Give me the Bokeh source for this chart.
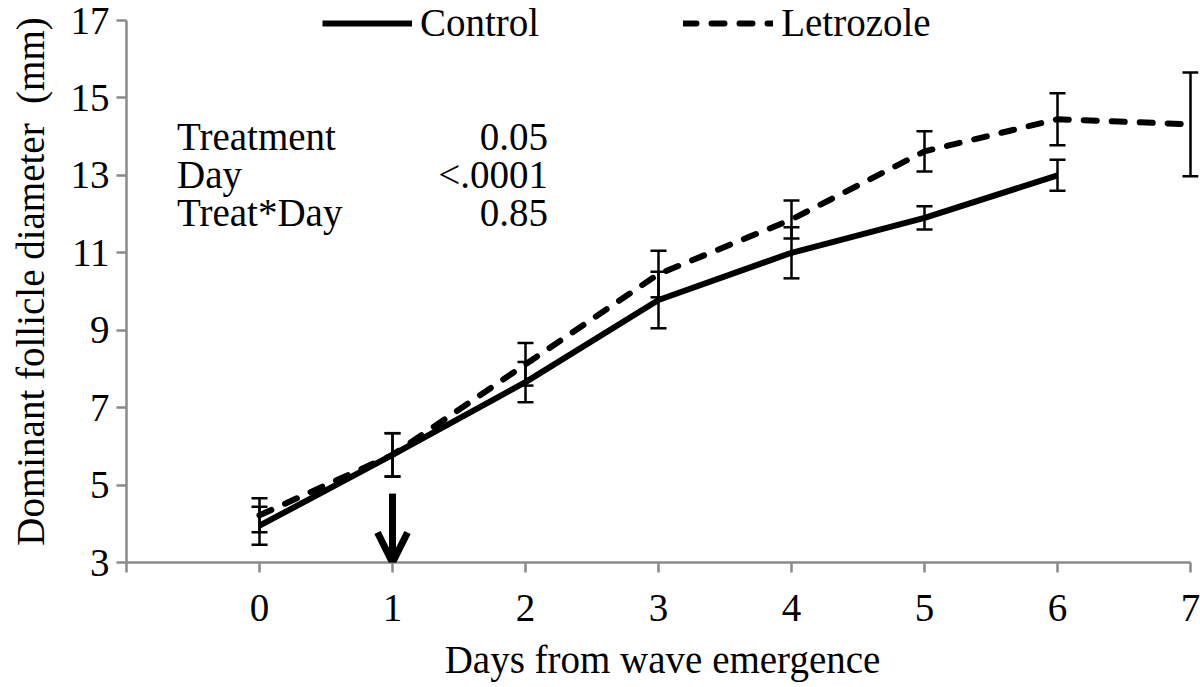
from bokeh.plotting import figure
from bokeh.models import (ColumnDataSource, Whisker, TeeHead, Legend, LegendItem, Label,
                          Arrow, OpenHead, FixedTicker, Range1d)
from bokeh.embed import file_html
from bokeh.resources import INLINE

# ---- data ----
days_control = [0, 1, 2, 3, 4, 5, 6]
control = [3.95, 5.78, 7.66, 9.78, 11.0, 11.9, 13.0]
control_err = [0.49, 0.56, 0.52, 0.73, 0.66, 0.30, 0.40]

days_letrozole = [0, 1, 2, 3, 4, 5, 6, 7]
letrozole = [4.22, 5.78, 8.12, 10.45, 11.86, 13.62, 14.45, 14.32]
letrozole_err = [0.44, 0.56, 0.55, 0.60, 0.49, 0.52, 0.67, 1.34]

stat_names = ["Treatment", "Day", "Treat*Day"]
stat_values = ["0.05", "<.0001", "0.85"]
stat_rows = [14.0, 13.02, 12.04]

x_ticks = [-1, 0, 1, 2, 3, 4, 5, 6, 7]
y_ticks = [3, 5, 7, 9, 11, 13, 15, 17]

FONT = "Liberation Serif"
FS = "39px"
AXIS_GRAY = "#8a8a8a"

# frame spans the full top of the canvas; axis lines bounded to the data extents
p = figure(width=1200, height=687, output_backend="svg", toolbar_location=None,
           x_range=Range1d(-1, 7 + 8 / 133.0), y_range=Range1d(3, 17 + 20 / 38.71),
           min_border_left=126, min_border_right=2, min_border_top=0, min_border_bottom=125)
p.outline_line_color = None
p.xgrid.visible = False
p.ygrid.visible = False
p.background_fill_color = "white"
p.border_fill_color = "white"

src_c = ColumnDataSource(dict(x=days_control, y=control,
                              lo=[v - e for v, e in zip(control, control_err)],
                              hi=[v + e for v, e in zip(control, control_err)]))
src_l = ColumnDataSource(dict(x=days_letrozole, y=letrozole,
                              lo=[v - e for v, e in zip(letrozole, letrozole_err)],
                              hi=[v + e for v, e in zip(letrozole, letrozole_err)]))

for src in (src_c, src_l):
    w = Whisker(source=src, base="x", lower="lo", upper="hi", line_color="black", line_width=2.5,
                lower_head=TeeHead(size=16, line_width=2.5, line_color="black"),
                upper_head=TeeHead(size=16, line_width=2.5, line_color="black"))
    p.add_layout(w)

r_c = p.line("x", "y", source=src_c, line_color="black", line_width=6)
r_l = p.line("x", "y", source=src_l, line_color="black", line_width=6,
             line_dash="13 15", line_cap="round")

# arrow at day 1
p.add_layout(Arrow(end=OpenHead(size=30, line_width=7, line_color="black"),
                   x_start=1, y_start=4.78, x_end=1, y_end=3.0,
                   line_width=7, line_color="black"))

# stats text
for name, val, yy in zip(stat_names, stat_values, stat_rows):
    p.add_layout(Label(x=-0.62, y=yy, text=name, text_font=FONT, text_font_size=FS,
                       text_baseline="middle", text_align="left", text_color="black"))
    p.add_layout(Label(x=2.17, y=yy, text=val, text_font=FONT, text_font_size=FS,
                       text_baseline="middle", text_align="right", text_color="black"))

legend = Legend(items=[LegendItem(label="Control", renderers=[r_c]),
                       LegendItem(label="Letrozole", renderers=[r_l])],
                orientation="horizontal", location=(196, 517),
                glyph_width=90, glyph_height=40, label_height=40, label_standoff=8, spacing=144,
                padding=0, margin=0, border_line_color=None, background_fill_alpha=0,
                label_text_font=FONT, label_text_font_size=FS, label_text_color="black")
p.add_layout(legend)

# axes
p.xaxis.ticker = FixedTicker(ticks=x_ticks)
p.xaxis.major_label_overrides = {-1: ""}
p.xaxis.bounds = (-1, 7)
p.yaxis.ticker = FixedTicker(ticks=y_ticks)
p.yaxis.bounds = (3, 17)
for ax in (p.xaxis[0], p.yaxis[0]):
    ax.axis_line_color = AXIS_GRAY
    ax.axis_line_width = 2.5
    ax.major_tick_line_color = AXIS_GRAY
    ax.major_tick_line_width = 2.5
    ax.major_tick_in = 0
    ax.major_tick_out = 10
    ax.minor_tick_line_color = None
    ax.major_label_text_font = FONT
    ax.major_label_text_font_size = FS
    ax.major_label_text_color = "black"
    ax.axis_label_text_font = FONT
    ax.axis_label_text_font_size = FS
    ax.axis_label_text_font_style = "normal"
    ax.axis_label_text_color = "black"

p.xaxis.axis_label = "Days from wave emergence"
p.xaxis.major_label_standoff = 22
p.xaxis.axis_label_standoff = 14
p.yaxis.axis_label = "Dominant follicle diameter\u00a0 (mm)"
p.yaxis.major_label_standoff = 7
p.yaxis.axis_label_standoff = 16

open("out.html", "w").write(file_html(p, INLINE))
